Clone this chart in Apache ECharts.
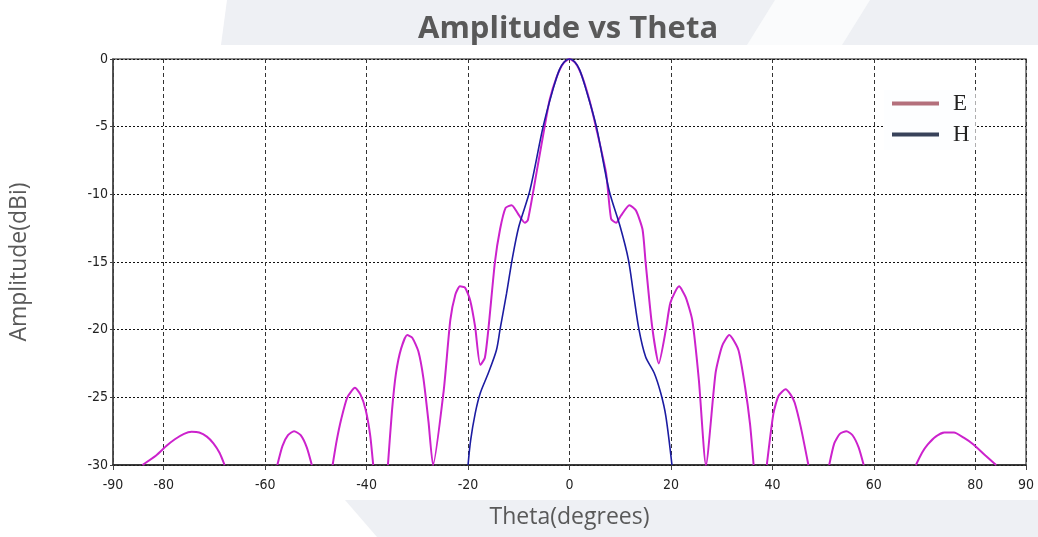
<!DOCTYPE html>
<html>
<head>
<meta charset="utf-8">
<script src="https://cdn.jsdelivr.net/npm/echarts@6/dist/echarts.min.js"></script>
<style>
  html, body { margin: 0; padding: 0; background: #fff; }
  #chart { width: 1038px; height: 537px; }
</style>
</head>
<body>
<div id="chart"></div>
<script>
const TICK_FONT = "'Liberation Sans Narrow', 'DejaVu Sans Condensed', sans-serif"
const TEXT_FONT = "'Open Sans', 'Noto Sans', sans-serif"
const COLORS = {
  e: '#cc22cc',
  h: '#1c1ca2',
  eLegend: '#b4707c',
  hLegend: '#38425a',
  title: '#595959',
  tick: '#222',
  grid: '#333',
  band: '#eef0f4',
}

// x-axis label positions
const thetaTicks = [-90, -80, -60, -40, -20, 0, 20, 40, 60, 80, 90]

// E-plane: lobes drop below -30 dB, null marks the gaps
const eTheta = [
  -84.2, -81.5, -79.5, -77.8, -76, -74.5, -73, -71.5, -70.2, -69, -68, null,
  -57.6, -56.6, -55.5, -54.3, -53, -51.8, -50.8, null,
  -46.7, -45.9, -45, -43.8, -42.3, -41.2, -40.2, -39.3, -38.7, null,
  -35.8, -35, -34.2, -33.2, -32, -31, -29.8, -28.8, -27.8, -26.9,
  -24.8, -23.5, -22.5, -21.6, -20.6, -19.6, -18.6, -17.6, -16.7, -16, -14.7,
  -13.7, -12.6, -11.4, -10.2, -8.8, -8.2, -6.5, -4.9, -3.9, -2.5, -1.2, 0,
  1.2, 2.5, 3.9, 5.2, 7.2, 8.2, 9.2, 10.1, 11.8, 13.1, 14.4,
  15, 16.3, 17.6, 19, 19.9, 21.6, 22.9, 24.2, 25.5, 26.9,
  28.8, 30.1, 31.5, 33.3, 34.6, 35.6, 36.3, null,
  38.9, 40.2, 41.2, 42.6, 43.6, 44.4, 45.6, 47.1, null,
  51.2, 52.2, 53.3, 54.6, 55.8, 57, 58, null,
  68.3, 69.5, 70.6, 72.2, 73.9, 75.8, 77.8, 79.7, 82, 84.1
]
const eAmp = [
  -30, -29.3, -28.6, -28.1, -27.7, -27.55, -27.6, -27.9, -28.4, -29.1, -30, null,
  -30, -28.6, -27.8, -27.5, -27.8, -28.7, -30, null,
  -30, -28.2, -26.6, -25, -24.3, -24.8, -25.9, -27.8, -30, null,
  -30, -26, -23.2, -21.4, -20.4, -20.6, -21.6, -23.6, -26.8, -30,
  -24.5, -19.3, -17.4, -16.8, -16.9, -17.8, -19.8, -22.6, -22.1, -20, -15,
  -12.6, -11, -10.8, -11.4, -12.1, -11.9, -8.4, -5, -3, -1.3, -0.3, 0,
  -0.3, -1.3, -3, -5, -8.4, -11.8, -12.1, -11.6, -10.8, -11.2, -12.6,
  -15, -19.8, -22.5, -20, -18, -16.8, -17.6, -19.3, -23.7, -30,
  -23.2, -21.2, -20.4, -21.5, -24.2, -27, -30, null,
  -30, -26.2, -24.9, -24.4, -24.8, -25.4, -27.2, -30, null,
  -30, -28.4, -27.7, -27.5, -27.8, -28.7, -30, null,
  -30, -29.1, -28.5, -27.9, -27.6, -27.6, -28, -28.5, -29.3, -30
]

// H-plane: main lobe only
const hTheta = [
  -20, -19.5, -18.6, -17.6, -16, -14.4, -13.7, -12.4, -11.3, -10, -7.8,
  -5.2, -3.3, -2, -1, 0, 1, 2, 3.3, 5.3, 7.8, 10, 11.6, 12.6, 13.7, 15,
  16.7, 18, 19, 20.2
]
const hAmp = [
  -30, -28.2, -26.2, -24.7, -23.2, -21.5, -20, -17.3, -14.8, -12.4, -9.7,
  -5, -2.3, -0.8, -0.2, 0, -0.2, -0.8, -2.3, -5, -9.7, -12.4, -14.8, -17.3, -20,
  -22, -23.2, -24.7, -26.4, -30
]

const pairs = (xs, ys) => xs.map((x, i) => (x === null ? [null, null] : [x, ys[i]]))

const chart = echarts.init(document.getElementById('chart'))

chart.setOption({
  animation: false,
  backgroundColor: '#fff',
  graphic: [
    // faint page watermark behind the chart
    { type: 'polygon', z: -10, shape: { points: [[227, 0], [1038, 0], [1038, 45], [221, 45]] }, style: { fill: COLORS.band } },
    { type: 'polygon', z: -9, shape: { points: [[775, 0], [870, 0], [842, 45], [747, 45]] }, style: { fill: '#fafbfc' } },
    { type: 'polygon', z: -10, shape: { points: [[345, 500], [1038, 500], [1038, 537], [377, 537]] }, style: { fill: COLORS.band } },
  ],
  title: {
    text: 'Amplitude vs Theta',
    left: 413,
    top: 9,
    textStyle: { fontFamily: TEXT_FONT, fontSize: 31, fontWeight: 'bold', color: COLORS.title },
  },
  legend: {
    orient: 'vertical',
    left: 884,
    top: 90,
    padding: [2, 6, 4, 8],
    backgroundColor: '#fdfeff',
    itemWidth: 47,
    itemHeight: 4,
    itemGap: 8,
    icon: 'rect',
    textStyle: { fontFamily: "'Liberation Serif', 'DejaVu Serif', serif", fontSize: 23, color: '#222', padding: [0, 0, 0, 9] },
    data: [
      { name: 'E', itemStyle: { color: COLORS.eLegend } },
      { name: 'H', itemStyle: { color: COLORS.hLegend } },
    ],
  },
  grid: {
    left: 113,
    right: 12,
    top: 59,
    bottom: 72,
    show: true,
    borderColor: '#666',
    borderWidth: 1.5,
    backgroundColor: '#fff',
  },
  xAxis: {
    type: 'value',
    min: -90,
    max: 90,
    name: 'Theta(degrees)',
    nameLocation: 'middle',
    nameGap: 41,
    nameTextStyle: { fontFamily: TEXT_FONT, fontSize: 23, color: COLORS.title },
    axisLine: { onZero: false, lineStyle: { color: '#222', width: 1.5 } },
    axisTick: { show: true, length: 5, customValues: thetaTicks, lineStyle: { color: '#444' } },
    axisLabel: {
      customValues: thetaTicks,
      margin: 13,
      fontFamily: TICK_FONT,
      fontSize: 14,
      color: COLORS.tick,
    },
    splitLine: { show: true, lineStyle: { color: COLORS.grid, type: [4, 3], width: 1 } },
  },
  yAxis: {
    type: 'value',
    min: -30,
    max: 0,
    interval: 5,
    name: 'Amplitude(dBi)',
    nameLocation: 'middle',
    nameGap: 82,
    nameTextStyle: { fontFamily: TEXT_FONT, fontSize: 23, color: COLORS.title },
    axisLine: { show: true, onZero: false, lineStyle: { color: '#444', width: 1.5 } },
    axisTick: { show: true, length: 3, lineStyle: { color: '#444' } },
    axisLabel: { margin: 5, fontFamily: TICK_FONT, fontSize: 14, color: COLORS.tick },
    splitLine: { show: true, lineStyle: { color: '#111', type: [2, 2], width: 1 } },
  },
  series: [
    {
      name: 'E',
      type: 'line',
      data: pairs(eTheta, eAmp),
      showSymbol: false,
      smooth: 0.2,
      connectNulls: false,
      lineStyle: { color: COLORS.e, width: 2 },
      itemStyle: { color: COLORS.e },
      z: 3,
    },
    {
      name: 'H',
      type: 'line',
      data: pairs(hTheta, hAmp),
      showSymbol: false,
      smooth: 0.3,
      lineStyle: { color: COLORS.h, width: 1.6 },
      itemStyle: { color: COLORS.h },
      z: 4,
    },
  ],
})
</script>
</body>
</html>
